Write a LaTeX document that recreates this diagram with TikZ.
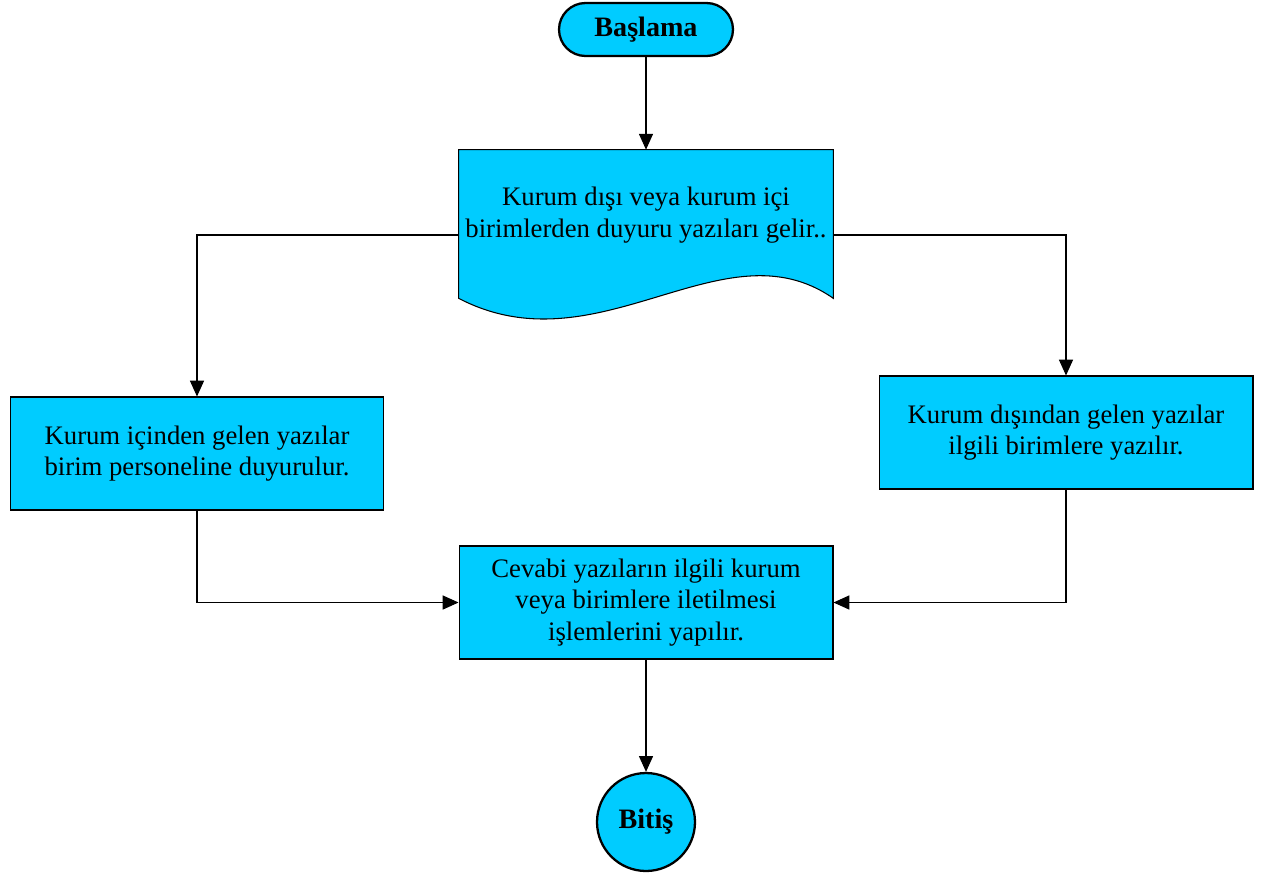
\documentclass[tikz,border=0pt]{standalone}
\usepackage{fontspec}
\setmainfont{Liberation Serif}
\usepackage{tikz}
\usetikzlibrary{arrows.meta,calc,positioning}
\definecolor{akiscyan}{HTML}{00CCFF}

\tikzset{
  kutu/.style={draw=black,fill=akiscyan,line width=0.6pt,minimum width=7.48cm,minimum height=2.26cm,align=center,font=\fontsize{15.2}{18}\selectfont},
  uc/.style={draw=black,fill=akiscyan,line width=1.3pt,font=\bfseries\fontsize{16}{18}\selectfont},
  ok/.style={-{Triangle[length=9pt,width=8pt]},line width=0.6pt}
}

\begin{document}
\begin{tikzpicture}[x=0.02cm,y=-0.02cm]
\useasboundingbox (0,0) rectangle (1264,873);

\node[uc,rounded corners=0.53cm,minimum width=3.48cm,minimum height=1.06cm] (basla) at (646,29.5) {Başlama};

% belge sekli
\node[minimum width=7.48cm,minimum height=2.52cm] (belge) at (646,213) {};
\draw[fill=akiscyan,line width=0.6pt] (belge.north west) -- (belge.north east) -- ($(belge.south east)+(0,22)$)
  .. controls ($(belge.south east)+(-110,-55)$) and ($(belge.south west)+(140,95)$) .. ($(belge.south west)+(0,22)$) -- cycle;
\node[align=center,font=\fontsize{15.2}{18}\selectfont] (belgeyazi) at ($(belge.center)+(0,2)$) {Kurum dışı veya kurum içi\\birimlerden duyuru yazıları gelir..};

\node[kutu] (ic) at (197,453.5) {Kurum içinden gelen yazılar\\birim personeline duyurulur.};
\node[kutu] (dis) at (1066,432.5) {Kurum dışından gelen yazılar\\ilgili birimlere yazılır.};
\node[kutu] (cevap) at (646,602.5) {Cevabi yazıların ilgili kurum\\veya birimlere iletilmesi\\işlemlerini yapılır.};

\node[uc,circle,minimum size=1.96cm] (bitis) at (646,822) {Bitiş};

\coordinate (bsol) at ($(belge.west)+(0,22)$);
\coordinate (bsag) at ($(belge.east)+(0,22)$);

\draw[ok] (basla) -- (belge);
\draw[ok] (bsol) -| (ic.north);
\draw[ok] (bsag) -| (dis.north);
\draw[ok] (ic.south) |- (cevap.west);
\draw[ok] (dis.south) |- (cevap.east);
\draw[ok] (cevap) -- (bitis);
\end{tikzpicture}
\end{document}
